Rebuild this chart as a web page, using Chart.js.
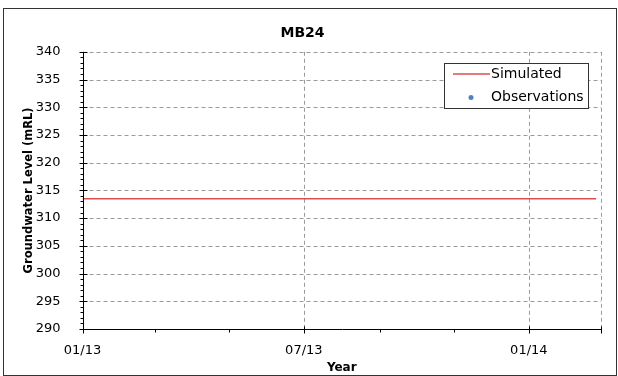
<!DOCTYPE html>
<html>
<head>
<meta charset="utf-8">
<title>MB24</title>
<script src="https://cdn.jsdelivr.net/npm/chart.js@4.4.1/dist/chart.umd.min.js"></script>
<style>
  html, body { margin: 0; padding: 0; background: #fff; }
  canvas { display: block; }
</style>
</head>
<body>
<canvas id="myChart" width="618" height="376"></canvas>
<script>
// Axis extents and tick dates
var startDate = '2013-01-01';
var endDate = '2014-03-01';
var majorTickDates = ['2013-01-01', '2013-07-01', '2014-01-01'];
var minorTickDates = ['2013-03-01', '2013-05-01', '2013-09-01', '2013-11-01'];
var levelMin = 290;
var levelMax = 340;

// Simulated groundwater level (flat over the run)
var simDates = ['2013-01-01', '2014-02-25'];
var simLevels = [313.5, 313.5];

// No observations recorded for this bore
var obsDates = [];
var obsLevels = [];

var FONT = "'DejaVu Sans', Verdana, sans-serif";
var BASE = Date.UTC(2013, 0, 1);

// days since 1 Jan 2013
function dayOf(s) {
    var p = s.split('-');
    return (Date.UTC(+p[0], +p[1] - 1, +p[2]) - BASE) / 86400000;
}

function fmtDay(v) {
    var d = new Date(BASE + v * 86400000);
    var mm = ('0' + (d.getUTCMonth() + 1)).slice(-2);
    var yy = ('0' + (d.getUTCFullYear() % 100)).slice(-2);
    return mm + '/' + yy;
}

function toPoints(dates, vals) {
    return dates.map(function(d, i) { return { x: dayOf(d), y: vals[i] }; });
}

// Grid, axes, ticks, legend and frame drawn with the chart's own scales
var framePlugin = {
    id: 'frame',
    beforeDatasetsDraw: function(chart) {
        var ctx = chart.ctx, a = chart.chartArea;
        var xs = chart.scales.x, ys = chart.scales.y;
        ctx.save();
        ctx.strokeStyle = '#9a9a9a';
        ctx.lineWidth = 1;
        ctx.setLineDash([4, 3]);
        for (var v = levelMin + 5; v <= levelMax; v += 5) {
            var y = Math.round(ys.getPixelForValue(v)) + 0.5;
            ctx.beginPath(); ctx.moveTo(a.left, y); ctx.lineTo(a.right, y); ctx.stroke();
        }
        var vx = majorTickDates.slice(1).map(dayOf).concat([dayOf(endDate)]);
        vx.forEach(function(d) {
            var x = Math.round(xs.getPixelForValue(d)) + 0.5;
            ctx.beginPath(); ctx.moveTo(x, a.top); ctx.lineTo(x, a.bottom); ctx.stroke();
        });
        ctx.restore();
    },
    afterDatasetsDraw: function(chart) {
        var ctx = chart.ctx, a = chart.chartArea;
        var xs = chart.scales.x, ys = chart.scales.y;
        var x0 = Math.round(a.left) + 0.5, y0 = Math.round(a.bottom) + 0.5;
        ctx.save();
        ctx.strokeStyle = '#000';
        ctx.lineWidth = 1;

        // axis lines
        ctx.beginPath();
        ctx.moveTo(x0, a.top); ctx.lineTo(x0, y0); ctx.lineTo(a.right + 0.5, y0);
        ctx.stroke();

        // y ticks: major every 5, minor every 1
        for (var v = levelMin; v <= levelMax; v++) {
            var y = Math.round(ys.getPixelForValue(v)) + 0.5;
            ctx.beginPath();
            if (v % 5 === 0) { ctx.moveTo(x0 - 4, y); ctx.lineTo(x0 + 4, y); }
            else { ctx.moveTo(x0 - 3, y); ctx.lineTo(x0, y); }
            ctx.stroke();
        }

        // x ticks
        majorTickDates.concat([endDate]).forEach(function(d) {
            var x = Math.round(xs.getPixelForValue(dayOf(d))) + 0.5;
            ctx.beginPath(); ctx.moveTo(x, y0 - 3); ctx.lineTo(x, y0 + 4); ctx.stroke();
        });
        minorTickDates.forEach(function(d) {
            var x = Math.round(xs.getPixelForValue(dayOf(d))) + 0.5;
            ctx.beginPath(); ctx.moveTo(x, y0); ctx.lineTo(x, y0 + 3); ctx.stroke();
        });

        // legend box
        var lx = 444.5, ly = 63.5, lw = 144, lh = 45;
        ctx.fillStyle = '#fff';
        ctx.fillRect(lx, ly, lw, lh);
        ctx.strokeStyle = '#333';
        ctx.strokeRect(lx, ly, lw, lh);

        var sim = chart.data.datasets[0], obs = chart.data.datasets[1];
        ctx.strokeStyle = sim.borderColor;
        ctx.lineWidth = 1.5;
        ctx.beginPath(); ctx.moveTo(453, 74); ctx.lineTo(490, 74); ctx.stroke();
        ctx.fillStyle = obs.backgroundColor;
        ctx.beginPath(); ctx.arc(471, 97.5, 2.5, 0, Math.PI * 2); ctx.fill();

        ctx.fillStyle = '#000';
        ctx.font = '14px ' + FONT;
        ctx.textBaseline = 'middle';
        ctx.textAlign = 'left';
        ctx.fillText(sim.label, 491, 74);
        ctx.fillText(obs.label, 491, 97.5);

        // outer frame
        ctx.strokeStyle = '#333';
        ctx.lineWidth = 1;
        ctx.strokeRect(3.5, 8.5, 613, 367);
        ctx.restore();
    }
};

var ctx = document.getElementById('myChart').getContext('2d');

var myChart = new Chart(ctx, {
    type: 'line',
    data: {
        datasets: [{
            label: 'Simulated',
            data: toPoints(simDates, simLevels),
            borderColor: '#d9504f',
            borderWidth: 1.5,
            pointRadius: 0,
            fill: false
        }, {
            type: 'scatter',
            label: 'Observations',
            data: toPoints(obsDates, obsLevels),
            backgroundColor: '#4f81bd',
            borderColor: '#4f81bd',
            pointRadius: 2.5
        }]
    },
    options: {
        responsive: false,
        animation: false,
        layout: { padding: { left: 4, right: 17, top: 8, bottom: 0 } },
        plugins: {
            legend: { display: false },
            tooltip: { enabled: false },
            title: {
                display: true,
                text: 'MB24',
                color: '#000',
                font: { family: FONT, size: 14, weight: 'bold', lineHeight: 1.2 },
                padding: { top: 17, bottom: 10 }
            }
        },
        scales: {
            x: {
                type: 'linear',
                min: dayOf(startDate),
                max: dayOf(endDate),
                grid: { display: false },
                border: { display: false },
                afterBuildTicks: function(scale) {
                    scale.ticks = majorTickDates.map(function(d) { return { value: dayOf(d) }; });
                },
                afterFit: function(scale) { scale.height = 47; },
                ticks: {
                    autoSkip: false,
                    maxRotation: 0,
                    padding: 6,
                    color: '#000',
                    font: { family: FONT, size: 13 },
                    callback: function(v) { return fmtDay(v); }
                },
                title: {
                    display: true,
                    text: 'Year',
                    color: '#000',
                    font: { family: FONT, size: 12, weight: 'bold', lineHeight: 1.2 },
                    padding: { top: 0, bottom: 1 }
                }
            },
            y: {
                min: levelMin,
                max: levelMax,
                grid: { display: false },
                border: { display: false },
                afterFit: function(scale) { scale.width = 78.5; },
                ticks: {
                    stepSize: 5,
                    padding: 14,
                    color: '#000',
                    font: { family: FONT, size: 13 }
                },
                title: {
                    display: true,
                    text: 'Groundwater Level (mRL)',
                    color: '#000',
                    font: { family: FONT, size: 11.5, weight: 'bold', lineHeight: 1.2 },
                    padding: { top: 18, bottom: 0 }
                }
            }
        }
    },
    plugins: [framePlugin]
});
</script>
</body>
</html>
